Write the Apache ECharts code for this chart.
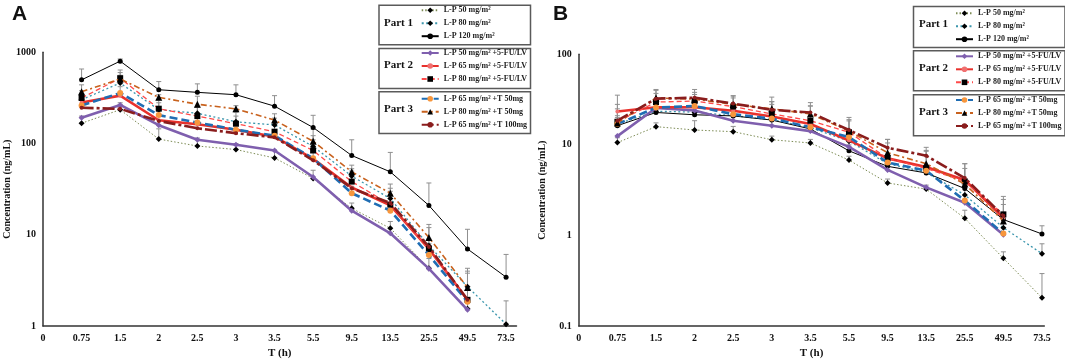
<!DOCTYPE html>
<html>
<head>
<meta charset="utf-8">
<script src="https://cdn.jsdelivr.net/npm/echarts@6/dist/echarts.min.js"></script>
<style>
  html, body { margin: 0; padding: 0; background: #fff; }
  #chart { width: 1065px; height: 364px; }
</style>
</head>
<body>
<div id="chart"></div>
<script>
// x tick labels (time, h); data points sit at positions 1..12
const xLabels = ['0', '0.75', '1.5', '2', '2.5', '3', '3.5', '5.5', '9.5', '13.5', '25.5', '49.5', '73.5'];

const seriesNames = [
    'L-P 50 mg/m²', 'L-P 80 mg/m²', 'L-P 120 mg/m²',
    'L-P 50 mg/m² +5-FU/LV', 'L-P 65 mg/m² +5-FU/LV', 'L-P 80 mg/m² +5-FU/LV',
    'L-P 65 mg/m² +T 50mg', 'L-P 80 mg/m² +T 50mg', 'L-P 65 mg/m² +T 100mg'
];

// Panel A mean concentrations (ng/mL) at 0.75 ... 73.5 h
const a_lp50 = [167, 235, 112, 94, 86, 69.5, 41.5, 19.5, 11.8, 4.3, 1.55, null];
const a_lp80 = [303, 460, 235, 215, 173, 160, 93, 44, 25, 7.6, 2.7, 1.05];
const a_lp120 = [499, 800, 389, 364, 343, 257, 150, 74, 49, 21, 7.0, 3.44];
const a_lp50fu = [192, 265, 159, 110, 97, 84, 43, 18.4, 10.4, 4.26, 1.51, null];
const a_lp65fu = [282, 335, 180, 163, 142, 119, 68, 33, 21, 7.0, 1.95, null];
const a_lp80fu = [316, 520, 241, 200, 165, 135, 84, 38.3, 21.4, 7.0, 1.94, null];
const a_lp65t50 = [262, 358, 205, 170, 142, 122, 69, 28.6, 18.4, 6.0, 1.85, null];
const a_lp80t50 = [370, 510, 321, 270, 240, 181, 106, 49, 28.6, 9.36, 2.65, null];
const a_lp65t100 = [247, 240, 177, 147, 130, 117, 65.5, 32.4, 22.3, 7.4, 1.94, null];

// Panel A upper error bar ends (mean + SD)
const a_lp50_top = [200, 280, 145, 115, 100, 85, 51, 22.3, 14, 5.5, 2.0, null];
const a_lp80_top = [350, 560, 280, 250, 221, 190, 110, 50, 30, 9, 4.0, 1.89];
const a_lp120_top = [656, 845, 478, 451, 440, 335, 204, 110, 80, 37, 11.5, 6.1];
const a_lp80fu_top = [380, 600, 300, 250, 200, 165, 122, 53, 32.4, 12, 3.8, null];
const a_lp65t50_top = [300, 420, 240, 200, 170, 140, 80, 34, 22, 8, 2.5, null];
const a_lp80t50_top = [440, 640, 343, 330, 260, 212, 144, 58, 36, 13, 4.3, null];

// Panel B mean concentrations (ng/mL)
const b_lp50 = [10.6, 15.9, 14.6, 14.0, 11.4, 10.5, 6.8, 3.8, 3.25, 1.55, 0.56, 0.205];
const b_lp80 = [17.0, 23.5, 23.0, 21.0, 19.0, 15.5, 11.0, 6.2, 5.0, 2.8, 1.22, 0.63];
const b_lp120 = [16.3, 22.8, 21.5, 20.9, 18.8, 15.0, 8.6, 5.8, 4.9, 3.3, 1.5, 1.04];
const b_lp50fu = [12.5, 25.5, 24.0, 18.5, 16.3, 14.2, 9.5, 5.3, 3.4, 2.3, 1.02, null];
const b_lp65fu = [23.4, 26.0, 26.0, 23.8, 20.6, 17.0, 11.2, 7.1, 5.7, 4.1, 1.57, null];
const b_lp80fu = [18.0, 29.7, 30.5, 26.5, 22.0, 18.5, 13.8, 7.1, 5.5, 3.95, 1.71, null];
const b_lp65t50 = [17.0, 25.8, 26.9, 21.8, 19.5, 15.7, 12.2, 6.4, 5.2, 2.43, 1.05, null];
const b_lp80t50 = [17.5, 33.0, 32.0, 28.0, 25.0, 22.0, 14.2, 8.2, 6.2, 3.7, 1.45, null];
const b_lp65t100 = [18.5, 32.4, 33.2, 28.6, 24.4, 22.8, 14.6, 9.3, 7.6, 4.3, 1.65, null];

// Panel B upper error bar ends
const b_lp50_top = [12, 17.5, 18.5, 16, 12.5, 11.5, 7.5, 4.2, 3.6, 1.9, 0.66, 0.38];
const b_lp80_top = [21, 28, 27, 25, 22, 18, 13, 7.5, 6, 3.5, 1.6, 0.81];
const b_lp120_top = [20, 26, 24, 24, 33.7, 18, 10, 6.5, 5.5, 4, 1.8, 1.28];
const b_lp80fu_top = [35.4, 40.9, 40.9, 34.5, 28, 26.8, 18.4, 11.5, 8.7, 6.2, 2.7, null];
const b_lp80t50_top = [25, 40, 38, 35, 30, 27, 19, 10.5, 8.5, 5.5, 2.2, null];
const b_lp65t100_top = [28, 37, 36, 33, 30, 29.3, 20.1, 11.5, 9.4, 6.2, 2.5, null];

const serif = 'Liberation Serif';

const lineStyles = [
    { color: '#7d8c55', width: 1, type: [1.5, 2], symbol: 'diamond', size: 6, mark: '#000' },
    { color: '#3b96ad', width: 1.3, type: [2, 2.5], symbol: 'diamond', size: 6, mark: '#000' },
    { color: '#000000', width: 1, type: 'solid', symbol: 'circle', size: 5, mark: '#000' },
    { color: '#7f5fae', width: 2.6, type: 'solid', symbol: 'diamond', size: 6, mark: '#7f5fae' },
    { color: '#e8312c', width: 2.6, type: 'solid', symbol: 'circle', size: 4, mark: '#f07070' },
    { color: '#ff4a4a', width: 1.3, type: [5, 3], symbol: 'rect', size: 6, mark: '#000' },
    { color: '#1f6db3', width: 2.6, type: [8, 4], symbol: 'circle', size: 6, mark: '#f7963c' },
    { color: '#c8621e', width: 1.6, type: [6, 3, 2, 3], symbol: 'triangle', size: 7, mark: '#000' },
    { color: '#8a1d1d', width: 2.6, type: [12, 3, 3, 3], symbol: 'circle', size: 4, mark: '#8a1d1d' }
];

function toPoints(values) {
    const pts = [];
    values.forEach((v, i) => { if (v != null) pts.push([i + 1, v]); });
    return pts;
}

function lineSeries(k, values, panel) {
    const s = lineStyles[k];
    return {
        type: 'line', name: seriesNames[k], xAxisIndex: panel, yAxisIndex: panel,
        data: toPoints(values), z: 3 + k,
        symbol: s.symbol, symbolSize: s.size, showSymbol: true,
        lineStyle: { color: s.color, width: s.width, type: s.type },
        itemStyle: { color: s.mark, borderWidth: 0 },
        emphasis: { disabled: true }, animation: false
    };
}

function errorSeries(means, tops, panel) {
    const data = [];
    means.forEach((m, i) => { if (m != null && tops[i] != null) data.push([i + 1, m, tops[i]]); });
    return {
        type: 'custom', xAxisIndex: panel, yAxisIndex: panel, z: 2, silent: true,
        encode: { x: 0, y: [1, 2] }, data, animation: false,
        renderItem(params, api) {
            const lo = api.coord([api.value(0), api.value(1)]);
            const hi = api.coord([api.value(0), api.value(2)]);
            const st = { stroke: '#8f8f8f', lineWidth: 1 };
            return {
                type: 'group', children: [
                    { type: 'line', shape: { x1: lo[0], y1: lo[1], x2: hi[0], y2: hi[1] }, style: st },
                    { type: 'line', shape: { x1: hi[0] - 2.5, y1: hi[1], x2: hi[0] + 2.5, y2: hi[1] }, style: st }
                ]
            };
        }
    };
}

function legendBox(names, left, top) {
    return {
        left, top, orient: 'vertical', padding: 0, itemGap: 5,
        itemWidth: 17, itemHeight: 7, selectedMode: false, data: names,
        textStyle: { fontFamily: serif, fontWeight: 'bold', fontSize: 8, color: '#222' }
    };
}

function xAxis(panel, max) {
    return {
        type: 'value', gridIndex: panel, min: 0, max, interval: 1,
        name: 'T (h)', nameLocation: 'middle', nameGap: 21,
        nameTextStyle: { fontFamily: serif, fontWeight: 'bold', fontSize: 11, color: '#111' },
        axisLine: { lineStyle: { color: '#333', width: 1.5 } },
        axisTick: { show: false }, splitLine: { show: false },
        axisLabel: {
            fontFamily: serif, fontWeight: 'bold', fontSize: 10, color: '#111', margin: 7,
            formatter: v => (Number.isInteger(v) && xLabels[v] != null ? xLabels[v] : '')
        }
    };
}

function yAxis(panel, min, max) {
    return {
        type: 'log', gridIndex: panel, min, max, logBase: 10,
        name: 'Concentration (ng/mL)', nameLocation: 'middle', nameGap: 31,
        nameTextStyle: { fontFamily: serif, fontWeight: 'bold', fontSize: 10, color: '#111' },
        axisLine: { show: true, lineStyle: { color: '#333', width: 1.5 } },
        axisTick: { show: false }, splitLine: { show: false },
        axisLabel: {
            fontFamily: serif, fontWeight: 'bold', fontSize: 10, color: '#111', margin: 7,
            formatter: v => String(+v.toPrecision(6))
        }
    };
}

function boxes(left, tops, heights) {
    return tops.map((t, i) => ({
        type: 'rect', left, top: t, silent: true,
        shape: { width: 151.5, height: heights[i] },
        style: { fill: 'none', stroke: '#5a5a5a', lineWidth: 1.5 }
    }));
}

function partLabels(left, centers) {
    return centers.map((c, i) => ({
        type: 'text', left, top: c - 7, silent: true,
        style: { text: 'Part ' + (i + 1), font: 'bold 11px "Liberation Serif"', fill: '#111' }
    }));
}

const chart = echarts.init(document.getElementById('chart'), null, { renderer: 'canvas' });

const option = {
    backgroundColor: '#fff',
    animation: false,
    grid: [
        { left: 43, top: 52.3, width: 473.5, height: 277.7 },
        { left: 578.8, top: 54.3, width: 465.5, height: 275.7 }
    ],
    xAxis: [xAxis(0, 12.27), xAxis(1, 12.06)],
    yAxis: [yAxis(0, 1, 1000), yAxis(1, 0.1, 100)],
    legend: [
        legendBox(seriesNames.slice(0, 3), 420.7, 6.2),
        legendBox(seriesNames.slice(3, 6), 420.7, 49),
        legendBox(seriesNames.slice(6, 9), 420.7, 94.7),
        legendBox(seriesNames.slice(0, 3), 955, 9.2),
        legendBox(seriesNames.slice(3, 6), 955, 52.3),
        legendBox(seriesNames.slice(6, 9), 955, 96)
    ],
    graphic: [
        { type: 'text', left: 12, top: 4, style: { text: 'A', font: 'bold 21px "Liberation Sans"', fill: '#111' } },
        { type: 'text', left: 553, top: 4, style: { text: 'B', font: 'bold 21px "Liberation Sans"', fill: '#111' } },
        ...boxes(376.5, [2.7, 46, 89.3], [39.6, 40, 41.7]),
        ...boxes(911, [4, 48.3, 92.3], [41, 40, 41]),
        ...partLabels(384, [24.3, 66.7, 111]),
        ...partLabels(919, [26, 70, 114])
    ],
    series: [
        errorSeries(a_lp50, a_lp50_top, 0),
        errorSeries(a_lp80, a_lp80_top, 0),
        errorSeries(a_lp120, a_lp120_top, 0),
        errorSeries(a_lp80fu, a_lp80fu_top, 0),
        errorSeries(a_lp65t50, a_lp65t50_top, 0),
        errorSeries(a_lp80t50, a_lp80t50_top, 0),
        lineSeries(0, a_lp50, 0),
        lineSeries(1, a_lp80, 0),
        lineSeries(2, a_lp120, 0),
        lineSeries(3, a_lp50fu, 0),
        lineSeries(4, a_lp65fu, 0),
        lineSeries(5, a_lp80fu, 0),
        lineSeries(6, a_lp65t50, 0),
        lineSeries(7, a_lp80t50, 0),
        lineSeries(8, a_lp65t100, 0),
        errorSeries(b_lp50, b_lp50_top, 1),
        errorSeries(b_lp80, b_lp80_top, 1),
        errorSeries(b_lp120, b_lp120_top, 1),
        errorSeries(b_lp80fu, b_lp80fu_top, 1),
        errorSeries(b_lp80t50, b_lp80t50_top, 1),
        errorSeries(b_lp65t100, b_lp65t100_top, 1),
        lineSeries(0, b_lp50, 1),
        lineSeries(1, b_lp80, 1),
        lineSeries(2, b_lp120, 1),
        lineSeries(3, b_lp50fu, 1),
        lineSeries(4, b_lp65fu, 1),
        lineSeries(5, b_lp80fu, 1),
        lineSeries(6, b_lp65t50, 1),
        lineSeries(7, b_lp80t50, 1),
        lineSeries(8, b_lp65t100, 1)
    ]
};

chart.setOption(option);
</script>
</body>
</html>
